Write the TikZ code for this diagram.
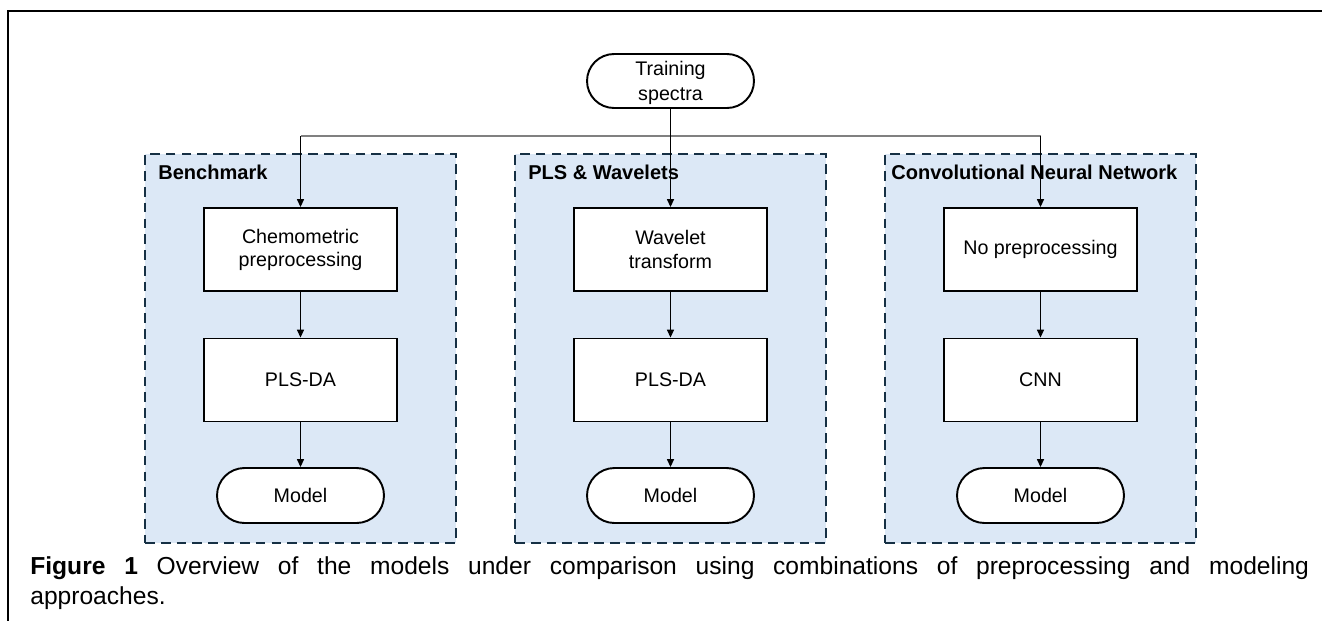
\documentclass[tikz,border=0pt]{standalone}
\usepackage{fontspec}
\setmainfont{Liberation Sans}
\usetikzlibrary{arrows.meta}

\definecolor{groupfill}{RGB}{220,232,246}
\definecolor{groupline}{RGB}{22,48,68}
\definecolor{splitline}{RGB}{128,128,128}

\tikzset{
  group/.style={draw=groupline, fill=groupfill, line width=1.1pt, dash pattern=on 5.5pt off 3.5pt,
    minimum width=6.22cm, minimum height=7.78cm, inner sep=0pt},
  grouplabel/.style={anchor=base west, inner sep=0pt, font=\fontsize{11.4}{13}\selectfont\bfseries},
  process/.style={draw, fill=white, line width=1.1pt, minimum width=3.86cm, minimum height=1.66cm,
    inner sep=0pt, align=center, font=\fontsize{11.2}{13.2}\selectfont},
  terminal/.style={draw, fill=white, line width=1.1pt, minimum width=3.34cm, minimum height=1.1cm,
    rounded corners=0.55cm, inner sep=0pt, align=center, font=\fontsize{11.2}{14}\selectfont},
  link/.style={line width=0.6pt, -{Triangle[length=4.5pt, width=4pt]}}
}

\begin{document}
\begin{tikzpicture}[x=0.02cm, y=-0.02cm]
    \useasboundingbox (0,0) rectangle (1322,620);

    % frame
    \draw[line width=1.1pt] (8,625) -- (8,11) -- (1330,11);

    % groups
    \node[group] (grp1) at (300.5,348.5) {};
    \node[group] (grp2) at (670.5,348.5) {};
    \node[group] (grp3) at (1040.5,348.5) {};

    \node[grouplabel] (lbl1) at (158,179) {Benchmark};
    \node[grouplabel] (lbl2) at (528,179) {PLS \& Wavelets};
    \node[grouplabel] (lbl3) at (891,179) {Convolutional Neural Network};

    % start
    \node[terminal, minimum height=1.08cm, rounded corners=0.54cm, text depth=-3pt] (train) at (670.5,81) {Training\\spectra};

    % steps
    \node[process] (pre1) at (300.5,249.5) {Chemometric\\preprocessing};
    \node[process] (pre2) at (670.5,249.5) {Wavelet\\transform};
    \node[process] (pre3) at (1040.5,249.5) {No preprocessing};

    \node[process] (fit1) at (300.5,380) {PLS-DA};
    \node[process] (fit2) at (670.5,380) {PLS-DA};
    \node[process] (fit3) at (1040.5,380) {CNN};

    \node[terminal] (mod1) at (300.5,495.5) {Model};
    \node[terminal] (mod2) at (670.5,495.5) {Model};
    \node[terminal] (mod3) at (1040.5,495.5) {Model};

    % connectors
    \coordinate (split1) at (pre1.north |- 0,136);
    \coordinate (split3) at (pre3.north |- 0,136);
    \draw[splitline, line width=0.6pt] (split1) -- (split3);
    \draw[link] (train.south) -- (pre2);
    \draw[link] (split1) -- (pre1);
    \draw[link] (split3) -- (pre3);

    \foreach \i in {1,2,3} {
        \draw[link] (pre\i) -- (fit\i);
        \draw[link] (fit\i) -- (mod\i);
    }

    % caption
    \node[anchor=north west, inner sep=0pt, text width=25.58cm, align=justify] (caption) at (30,556)
      {\fontsize{14}{17}\selectfont\textbf{Figure 1} Overview of the models under comparison using combinations of preprocessing and modeling\linebreak approaches.\par};
\end{tikzpicture}
\end{document}
